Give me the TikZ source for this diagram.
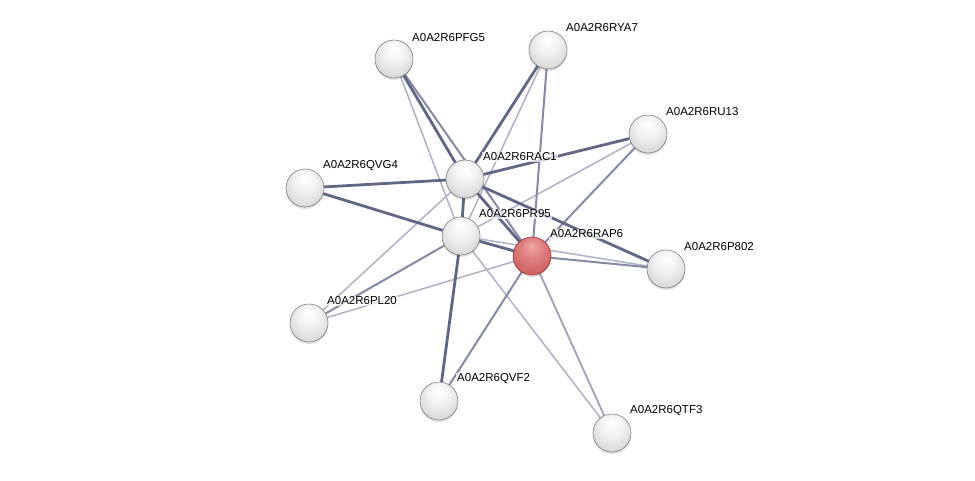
\documentclass[tikz,border=0pt]{standalone}
\usepackage{fontspec}
\setmainfont{Liberation Sans}
\usepackage{xcolor}
\usetikzlibrary{positioning,calc}
\definecolor{edgeDark}{HTML}{5F6686}
\definecolor{edgeMid}{HTML}{8489A6}
\definecolor{edgeLight}{HTML}{AEB1C4}
\definecolor{ballRim}{HTML}{7E7E7E}
\definecolor{redRim}{HTML}{983434}
\definecolor{redHi}{HTML}{F2A8A8}
\definecolor{redMid}{HTML}{E08080}
\definecolor{redLow}{HTML}{CE6060}
\definecolor{redDeep}{HTML}{B04848}
\pgfdeclareradialshading{glossgray}{\pgfqpoint{0bp}{14bp}}{color(0bp)=(white); color(14bp)=(white!95!black); color(28bp)=(white!86!black); color(40bp)=(white!78!black); color(47bp)=(white!66!black); color(50bp)=(white!55!black)}
\pgfdeclareradialshading{glossred}{\pgfqpoint{0bp}{14bp}}{color(0bp)=(redHi); color(14bp)=(redMid); color(30bp)=(redLow); color(42bp)=(redLow); color(47bp)=(redDeep); color(50bp)=(redRim)}

\begin{document}
\begin{tikzpicture}[
    x=1pt, y=-1pt,
    every node/.style={font=\fontsize{11.5}{13}\selectfont},
    protein/.style={circle, minimum size=38pt, inner sep=0pt, shading=glossgray, draw=ballRim, line width=0.6pt,
      preaction={fill=black, opacity=0.12, transform canvas={yshift=-2pt}}},
    query/.style={protein, shading=glossred, draw=redRim},
    lbl/.style={anchor=west, inner sep=1pt, fill=white, fill opacity=0.7, text opacity=1},
    strong/.style={edgeDark, line width=2.8pt},
    medium/.style={edgeMid, line width=2pt},
    weak/.style={edgeLight, line width=1.5pt}
]
    \useasboundingbox (0,0) rectangle (975,480);

    % proteins
    \coordinate (c-pfg5) at (394,59);
    \coordinate (c-rya7) at (548,50);
    \coordinate (c-ru13) at (648,134);
    \coordinate (c-rac1) at (465,179);
    \coordinate (c-qvg4) at (305,188);
    \coordinate (c-pr95) at (461,236);
    \coordinate (c-rap6) at (532,256);
    \coordinate (c-p802) at (666,269);
    \coordinate (c-pl20) at (309,323);
    \coordinate (c-qvf2) at (439,401);
    \coordinate (c-qtf3) at (612,433);

    % evidence links
    \draw[weak] (c-pfg5) -- (c-pr95);
    \draw[weak] (c-rya7) -- (c-pr95);
    \draw[weak] (c-ru13) -- (c-pr95);
    \draw[weak] (c-pl20) -- (c-rac1);
    \draw[weak] (c-pl20) -- (c-rap6);
    \draw[weak] (c-qtf3) -- (c-pr95);
    \draw[weak] (c-pr95) -- (c-p802);
    \draw[medium] (c-rya7) -- (c-rap6);
    \draw[medium] (c-ru13) -- (c-rap6);
    \draw[medium] (c-rap6) -- (c-p802);
    \draw[medium] (c-qvf2) -- (c-rap6);
    \draw[medium] (c-pl20) -- (c-pr95);
    \draw[weak, line width=1.8pt, edgeMid!80!white] (c-qtf3) -- (c-rap6);
    \draw[medium] (c-pfg5) -- (c-rap6);
    \draw[strong] (c-qvg4) -- (c-pr95);
    \draw[strong] (c-rac1) -- (c-p802);
    \draw[strong] (c-pfg5) -- (c-rac1);
    \draw[strong] (c-rya7) -- (c-rac1);
    \draw[strong] (c-ru13) -- (c-rac1);
    \draw[strong] (c-qvg4) -- (c-rac1);
    \draw[strong] (c-rac1) -- (c-pr95);
    \draw[strong] (c-rac1) -- (c-rap6);
    \draw[strong] (c-pr95) -- (c-rap6);
    \draw[strong] (c-pr95) -- (c-qvf2);

    \node[protein] (pfg5) at (c-pfg5) {};
    \node[protein] (rya7) at (c-rya7) {};
    \node[protein] (ru13) at (c-ru13) {};
    \node[protein] (rac1) at (c-rac1) {};
    \node[protein] (qvg4) at (c-qvg4) {};
    \node[protein] (pr95) at (c-pr95) {};
    \node[query]   (rap6) at (c-rap6) {};
    \node[protein] (p802) at (c-p802) {};
    \node[protein] (pl20) at (c-pl20) {};
    \node[protein] (qvf2) at (c-qvf2) {};
    \node[protein] (qtf3) at (c-qtf3) {};

    % names
    \node[lbl] (l-pfg5) at ([xshift=17pt,yshift=21pt]pfg5.center) {A0A2R6PFG5};
    \node[lbl] (l-rya7) at ([xshift=17pt,yshift=22pt]rya7.center) {A0A2R6RYA7};
    \node[lbl] (l-ru13) at ([xshift=17pt,yshift=22pt]ru13.center) {A0A2R6RU13};
    \node[lbl] (l-rac1) at ([xshift=17pt,yshift=22pt]rac1.center) {A0A2R6RAC1};
    \node[lbl] (l-qvg4) at ([xshift=17pt,yshift=22pt]qvg4.center) {A0A2R6QVG4};
    \node[lbl] (l-pr95) at ([xshift=17pt,yshift=22pt]pr95.center) {A0A2R6PR95};
    \node[lbl] (l-rap6) at ([xshift=17pt,yshift=22pt]rap6.center) {A0A2R6RAP6};
    \node[lbl] (l-p802) at ([xshift=17pt,yshift=22pt]p802.center) {A0A2R6P802};
    \node[lbl] (l-pl20) at ([xshift=17pt,yshift=22pt]pl20.center) {A0A2R6PL20};
    \node[lbl] (l-qvf2) at ([xshift=17pt,yshift=22pt]qvf2.center) {A0A2R6QVF2};
    \node[lbl] (l-qtf3) at ([xshift=17pt,yshift=22pt]qtf3.center) {A0A2R6QTF3};
\end{tikzpicture}
\end{document}
